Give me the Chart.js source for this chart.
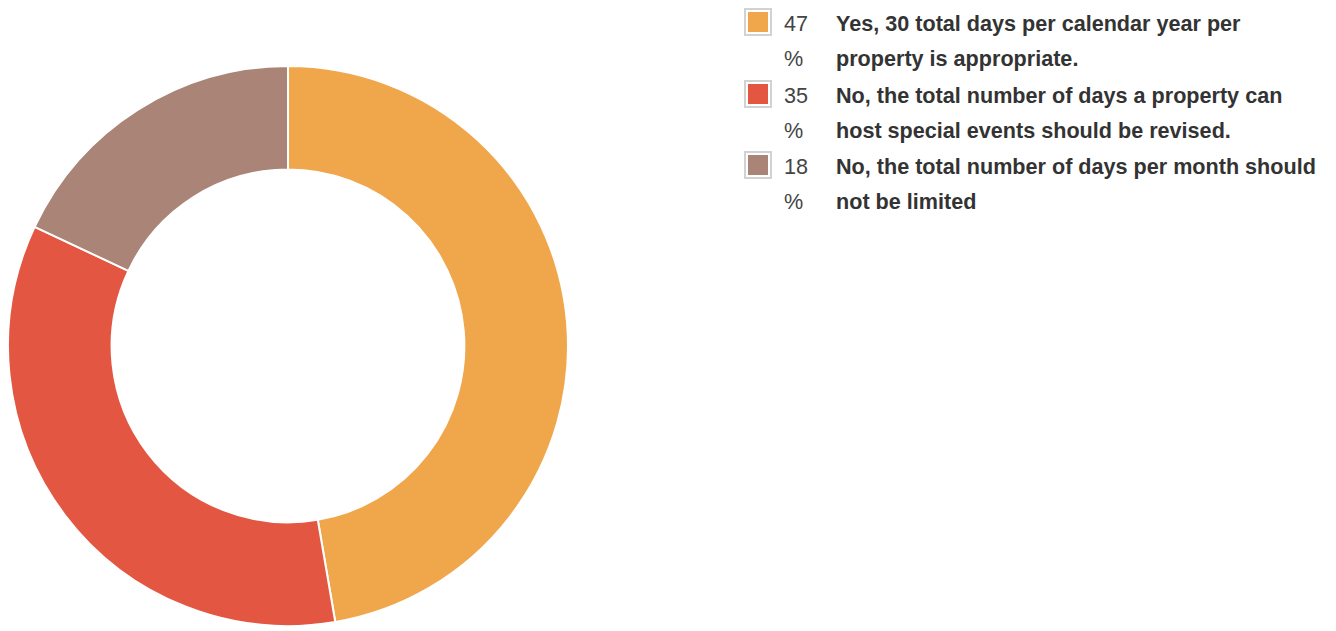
<!DOCTYPE html>
<html>
<head>
<meta charset="utf-8">
<script src="https://cdn.jsdelivr.net/npm/chart.js@4"></script>
<style>
    html, body { margin: 0; padding: 0; background: #fff; }
    body { width: 1336px; height: 631px; position: relative; overflow: hidden; font-family: "Liberation Sans", Arial, sans-serif; }
    #chartBox { position: absolute; left: 7px; top: 64px; width: 562px; height: 564px; }
    #legenda { position: absolute; left: 744px; top: 6px; }
    .item { position: relative; height: 70px; margin-bottom: 1.5px; }
    .caixa { position: absolute; left: 0; top: 2px; width: 20px; height: 20px; border: 2px solid #d2d2d2; padding: 2px; background: #fff; }
    .caixa span { display: block; width: 20px; height: 20px; }
    .pct { position: absolute; left: 40px; top: 0; font-size: 21.6px; line-height: 35px; color: #444; }
    .texto { position: absolute; left: 92px; top: 0; font-size: 21.6px; line-height: 35px; font-weight: bold; color: #333; white-space: nowrap; }
</style>
</head>
<body>
<div id="chartBox"><canvas id="donut"></canvas></div>
<div id="legenda"></div>
<script>
"use strict";

const respostas = [
    ["Yes, 30 total days per calendar year per", "property is appropriate."],
    ["No, the total number of days a property can", "host special events should be revised."],
    ["No, the total number of days per month should", "not be limited"],
];
// fatias (o rótulo mostra o valor arredondado)
const percentuais = [47.3, 34.7, 18];
const cores = ["#f0a64b", "#e35642", "#a98477"];

const ctxDonut = document.getElementById("donut");

let donutChart = null;
function createDonut(labels, dataSet) {
    if (donutChart) {
        donutChart.destroy();
    }

    donutChart = new Chart(ctxDonut, {
        type: "doughnut",
        data: {
            labels: labels,
            datasets: [
                {
                    data: dataSet,
                    backgroundColor: cores,
                    borderColor: "#ffffff",
                    borderWidth: 2,
                },
            ],
        },
        options: {
            responsive: true,
            maintainAspectRatio: false,
            animation: false,
            cutout: "63%",
            layout: {
                padding: 0,
            },
            plugins: {
                legend: {
                    display: false,
                },
                tooltip: {
                    enabled: false,
                },
            },
        },
    });
}

function createLegenda() {
    const legenda = document.getElementById("legenda");
    legenda.innerHTML = "";
    respostas.forEach((linhas, i) => {
        const item = document.createElement("div");
        item.className = "item";
        item.innerHTML =
            `<div class="caixa"><span style="background:${cores[i]}"></span></div>` +
            `<div class="pct">${Math.round(percentuais[i])}<br>%</div>` +
            `<div class="texto">${linhas.join("<br>")}</div>`;
        legenda.appendChild(item);
    });
}

createDonut(respostas, percentuais);
createLegenda();
</script>
</body>
</html>
